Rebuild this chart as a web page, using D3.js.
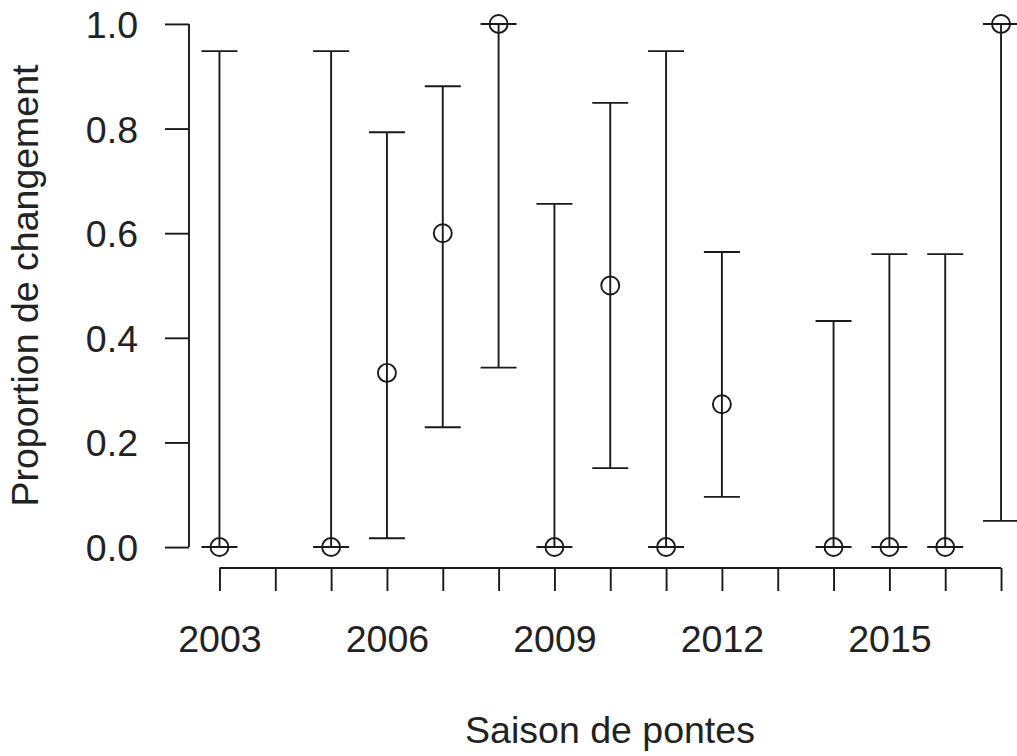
<!DOCTYPE html>
<html>
<head>
<meta charset="utf-8">
<script src="https://cdn.jsdelivr.net/npm/d3@7/dist/d3.min.js"></script>
<style>
  html, body { margin: 0; padding: 0; background: #fff; overflow: hidden; }
  svg { display: block; }
</style>
</head>
<body>
<script>
// Proportion of change per laying season, with confidence intervals
const years = [2003, 2005, 2006, 2007, 2008, 2009, 2010, 2011, 2012, 2014, 2015, 2016, 2017];
const proportion = [0, 0, 0.333, 0.6, 1.0, 0, 0.5, 0, 0.273, 0, 0, 0, 1.0];
const lower = [0, 0, 0.017, 0.229, 0.343, 0, 0.151, 0, 0.096, 0, 0, 0, 0.05];
const upper = [0.948, 0.948, 0.793, 0.881, 1.0, 0.656, 0.849, 0.948, 0.564, 0.432, 0.560, 0.560, 1.0];
const xTicks = d3.range(2003, 2018);
const xTickLabels = [2003, 2006, 2009, 2012, 2015];
const yTicks = [0, 0.2, 0.4, 0.6, 0.8, 1.0];

const W = 1017, H = 756;
const ink = "#1a1a1a";
const font = "'Liberation Sans', Arial, Helvetica, sans-serif";
const fs = 37.5;

const svg = d3.select("body").append("svg")
  .attr("width", W).attr("height", H);

// plot region with the usual 4% padding around the data range
const x = d3.scaleLinear().domain([2002.44, 2017.56]).range([188.2, 1032.3]);
const y = d3.scaleLinear().domain([-0.04, 1.04]).range([568, 3]);

const lw = 1.9;
const capHalf = 18;
const r = 9;

// x axis: line from first to last tick, ticks pointing down
const xAxis = d3.axisBottom(x)
  .tickValues(xTicks)
  .tickSize(23)
  .tickSizeOuter(0)
  .tickFormat(d => xTickLabels.includes(d) ? String(d) : "");
const gx = svg.append("g").attr("transform", `translate(0,568)`).call(xAxis);
gx.select(".domain").remove();
gx.append("line")
  .attr("x1", x(xTicks[0])).attr("x2", x(xTicks[xTicks.length - 1]))
  .attr("y1", 0).attr("y2", 0)
  .attr("stroke", ink).attr("stroke-width", lw);
gx.selectAll(".tick line").attr("stroke", ink).attr("stroke-width", lw);
gx.selectAll(".tick text")
  .attr("y", 84).attr("dy", 0)
  .attr("fill", "#222")
  .style("font-family", font).style("font-size", fs + "px");

// y axis: line from 0 to 1, ticks pointing left
const yAxis = d3.axisLeft(y)
  .tickValues(yTicks)
  .tickSize(24)
  .tickSizeOuter(0)
  .tickFormat(d3.format(".1f"));
const gy = svg.append("g").attr("transform", `translate(189,0)`).call(yAxis);
gy.select(".domain").remove();
gy.append("line")
  .attr("x1", 0).attr("x2", 0)
  .attr("y1", y(0)).attr("y2", y(1))
  .attr("stroke", ink).attr("stroke-width", lw);
gy.selectAll(".tick line").attr("stroke", ink).attr("stroke-width", lw);
gy.selectAll(".tick text")
  .attr("x", -51).attr("dy", "0.36em")
  .attr("fill", "#222")
  .style("font-family", font).style("font-size", fs + "px");

// axis titles
svg.append("text")
  .attr("x", 610).attr("y", 743)
  .attr("text-anchor", "middle")
  .attr("fill", "#222")
  .style("font-family", font).style("font-size", fs + "px")
  .text("Saison de pontes");

svg.append("text")
  .attr("transform", `translate(38,${(y(0) + y(1)) / 2}) rotate(-90)`)
  .attr("text-anchor", "middle")
  .attr("fill", "#222")
  .style("font-family", font).style("font-size", fs + "px")
  .text("Proportion de changement");

// error bars and points
const data = years.map((yr, i) => ({ yr, p: proportion[i], lo: lower[i], hi: upper[i] }));
const g = svg.append("g")
  .attr("stroke", ink).attr("stroke-width", lw).attr("fill", "none");

g.selectAll(".stem").data(data).join("line")
  .attr("x1", d => x(d.yr)).attr("x2", d => x(d.yr))
  .attr("y1", d => y(d.lo)).attr("y2", d => y(d.hi));

g.selectAll(".capHi").data(data).join("line")
  .attr("x1", d => x(d.yr) - capHalf).attr("x2", d => x(d.yr) + capHalf)
  .attr("y1", d => y(d.hi)).attr("y2", d => y(d.hi));

g.selectAll(".capLo").data(data).join("line")
  .attr("x1", d => x(d.yr) - capHalf).attr("x2", d => x(d.yr) + capHalf)
  .attr("y1", d => y(d.lo)).attr("y2", d => y(d.lo));

g.selectAll("circle").data(data).join("circle")
  .attr("cx", d => x(d.yr)).attr("cy", d => y(d.p))
  .attr("r", r);
</script>
</body>
</html>
